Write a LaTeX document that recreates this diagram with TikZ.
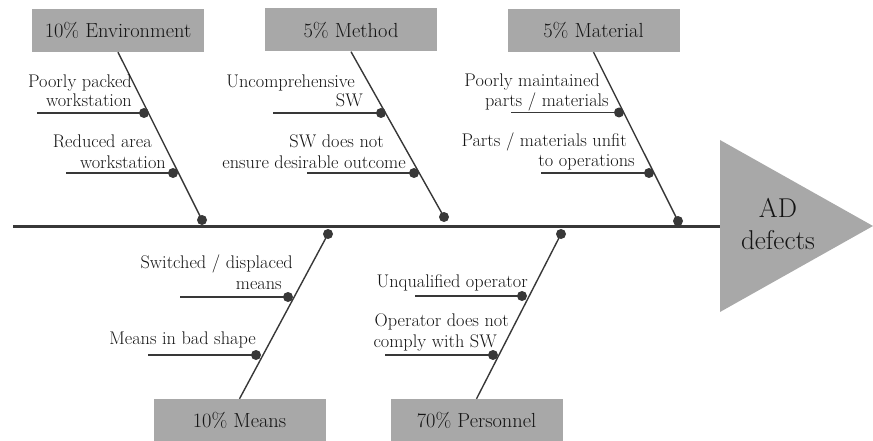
\documentclass[tikz,border=0pt]{standalone}
\usepackage{fontspec}
\begin{document}
\begin{tikzpicture}[x=1pt,y=-1pt,
  catbox/.style={fill=boxgray,draw=none,minimum width=172pt,minimum height=43pt,
    inner sep=0pt,font=\fontsize{20.4}{24}\selectfont,text=txt},
  bone/.style={draw=ln,line width=1.4pt},
  spineline/.style={draw=ln,line width=3pt},
  sub/.style={draw=ln,line width=1.4pt},
  dot/.style={circle,fill=ln,inner sep=0pt,minimum size=10pt},
  lbl/.style={anchor=base east,inner sep=0pt,font=\fontsize{18.3}{22}\selectfont,text=txt},
]
\definecolor{boxgray}{HTML}{A8A8A8}
\definecolor{ln}{HTML}{383838}
\definecolor{txt}{HTML}{141414}
\useasboundingbox (0,0) rectangle (873,441);

% head of the fish
\fill[boxgray] (720,140) coordinate (hwest) -- (873,226) -- (720,312) -- cycle;
\coordinate (hmid) at (720,226);
\node[align=center,font=\fontsize{27.2}{32}\selectfont,text=txt] (head) at (778,224) {AD\\defects};

% spine
\coordinate (tail) at (13,226);
\draw[spineline] (tail) -- (hmid);

% category boxes
\node[catbox] (envbox) at (118,30.5) {10\% Environment};
\node[catbox] (methbox) at (351,30) {5\% Method};
\node[catbox] (matbox) at (593.5,30.5) {5\% Material};
\node[catbox,minimum height=42pt] (meansbox) at (239.5,420) {10\% Means};
\node[catbox,minimum height=42pt] (persbox) at (476.5,420) {70\% Personnel};

% dots on the spine
\node[dot] (env0) at (202,220) {};
\node[dot] (meth0) at (444,217) {};
\node[dot] (mat0) at (678,221) {};
\node[dot] (means0) at (328,234) {};
\node[dot] (pers0) at (561,234) {};

% main bones
\draw[bone] (envbox.south) -- (env0.center);
\draw[bone] (methbox.south) -- (meth0.center);
\draw[bone] (matbox.south) -- (mat0.center);
\draw[bone] (meansbox.north) -- (means0.center);
\draw[bone] (persbox.north) -- (pers0.center);

% cause dots
\node[dot] (env1) at (144,113) {};
\node[dot] (env2) at (173,173) {};
\node[dot] (meth1) at (381,113) {};
\node[dot] (meth2) at (414,173) {};
\node[dot] (mat1) at (619,112.5) {};
\node[dot] (mat2) at (649,173) {};
\node[dot] (means1) at (288,297) {};
\node[dot] (means2) at (256,355) {};
\node[dot] (pers1) at (522,296) {};
\node[dot] (pers2) at (493,355) {};

% cause lines
\coordinate (env1s) at (37,113);
\coordinate (env2s) at (66,173);
\coordinate (meth1s) at (273,113);
\coordinate (meth2s) at (307,173);
\coordinate (mat1s) at (511,112.5);
\coordinate (mat2s) at (541,173);
\coordinate (means1s) at (180,297);
\coordinate (means2s) at (148,355);
\coordinate (pers1s) at (415,296);
\coordinate (pers2s) at (385,355);
\foreach \c in {env1,env2,meth1,meth2,mat1,mat2,means1,means2,pers1,pers2}
  \draw[sub] (\c s) -- (\c.center);

% cause labels
\node[lbl] (tenv1a) at (132,88) {Poorly packed};
\node[lbl] (tenv1b) at (132,107) {workstation};
\node[lbl] (tenv2a) at (152,148) {Reduced area};
\node[lbl] (tenv2b) at (166,168) {workstation};

\node[lbl] (tmeth1a) at (355,88) {Uncomprehensive};
\node[lbl] (tmeth1b) at (363,107) {SW};
\node[lbl] (tmeth2a) at (384,148) {SW does not};
\node[lbl] (tmeth2b) at (406,168) {ensure desirable outcome};

\node[lbl] (tmat1a) at (600,87) {Poorly maintained};
\node[lbl] (tmat1b) at (609,107) {parts / materials};
\node[lbl] (tmat2a) at (627,147) {Parts / materials unfit};
\node[lbl] (tmat2b) at (635,167) {to operations};

\node[lbl] (tmeans1a) at (293,268) {Switched / displaced};
\node[lbl] (tmeans1b) at (282,289) {means};
\node[lbl] (tmeans2a) at (256,344) {Means in bad shape};

\node[lbl] (tpers1a) at (528,287) {Unqualified operator};
\node[lbl] (tpers2a) at (509,326) {Operator does not};
\node[lbl] (tpers2b) at (497,347) {comply with SW};
\end{tikzpicture}
\end{document}
